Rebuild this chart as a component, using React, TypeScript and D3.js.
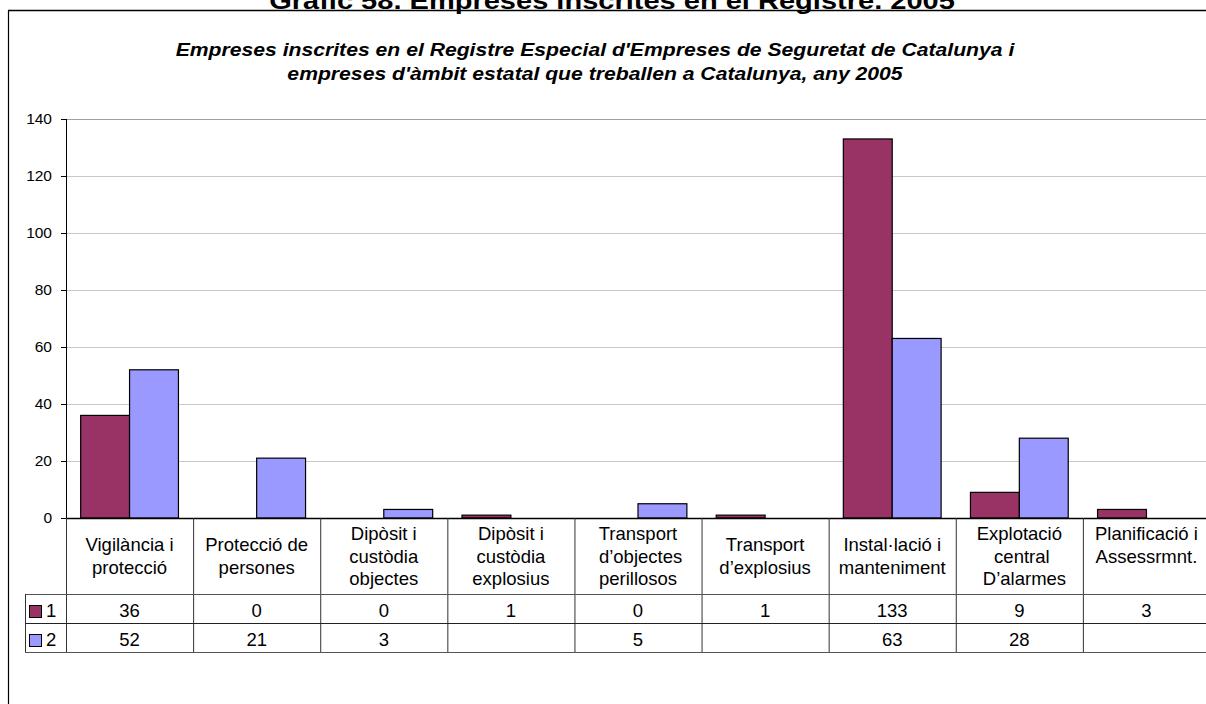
import * as d3 from "d3";

const categories = [
  ["Vigilància i", "protecció"],
  ["Protecció de", "persones"],
  ["Dipòsit i", "custòdia", "objectes"],
  ["Dipòsit i", "custòdia", "explosius"],
  ["Transport", " d’objectes", "perillosos"],
  ["Transport", "d’explosius"],
  ["Instal·lació i", "manteniment"],
  ["Explotació", " central", "  D’alarmes"],
  ["Planificació i", "Assessrmnt.", ""],
];
const seriesNames = ["1", "2"];
const series1: (number | null)[] = [36, 0, 0, 1, 0, 1, 133, 9, 3];
const series2: (number | null)[] = [52, 21, 3, null, 5, null, 63, 28, null];
const yTicks = [0, 20, 40, 60, 80, 100, 120, 140];

const colors = ["#993366", "#9999FF"];
const font = "Arial, 'Liberation Sans', sans-serif";

export default function App() {
  const W = 1206;
  const H = 704;
  const plotLeft = 66;
  const plotRight = 1210;
  const y0 = 518;
  const yTop = 119;
  const headerBottom = 594;
  const rowH = 29;
  const legendLeft = 25;

  const keys = categories.map((_, i) => String(i));
  const x0 = d3.scaleBand<string>().domain(keys).range([plotLeft, plotRight]).padding(0);
  const x1 = d3.scaleBand<string>().domain(seriesNames).range([0, x0.bandwidth()]).paddingInner(0).paddingOuter(0.3);
  const y = d3.scaleLinear().domain([0, 140]).range([y0, yTop]);

  const data = [series1, series2];
  const tableBottom = headerBottom + rowH * 2;

  // the titles in the source are a little stretched sideways
  const stretch = 1.21;

  return (
    <div style={{ position: "fixed", left: 0, top: 0, width: W, height: H, overflow: "hidden", background: "#fff" }}>
      <svg width={W} height={H} style={{ display: "block", fontFamily: font }}>
        {/* chart title, partly cut at the top */}
        <g transform={`translate(612,8.5) scale(${stretch},1)`}>
          <text x={0} y={0} textAnchor="middle" fontSize={24} fontWeight="bold" fill="#000">
            Gràfic 58. Empreses inscrites en el Registre. 2005
          </text>
        </g>
        {/* frame */}
        <line x1={8.5} x2={8.5} y1={10.5} y2={H} stroke="#000" strokeWidth={1.2} />
        <line x1={8} x2={W} y1={10.5} y2={10.5} stroke="#000" strokeWidth={1.5} />

        <g transform={`translate(595,0) scale(${stretch},1)`}>
          <text x={0} y={56} textAnchor="middle" fontSize={17.5} fontWeight="bold" fontStyle="italic">
            Empreses inscrites en el Registre Especial d'Empreses de Seguretat de Catalunya i
          </text>
          <text x={0} y={80} textAnchor="middle" fontSize={17.5} fontWeight="bold" fontStyle="italic">
            empreses d'àmbit estatal que treballen a Catalunya, any 2005
          </text>
        </g>

        {/* gridlines */}
        {yTicks.filter((t) => t > 0).map((t) => (
          <line key={t} x1={plotLeft} x2={plotRight} y1={Math.round(y(t)) + 0.5} y2={Math.round(y(t)) + 0.5}
            stroke={t === 140 ? "#a0a0a0" : "#c8c8c8"} strokeWidth={1} />
        ))}

        {/* y axis */}
        <line x1={plotLeft + 0.5} x2={plotLeft + 0.5} y1={yTop} y2={tableBottom} stroke="#000" strokeWidth={1} />
        {yTicks.map((t) => (
          <g key={t}>
            <line x1={plotLeft - 5} x2={plotLeft} y1={Math.round(y(t)) + 0.5} y2={Math.round(y(t)) + 0.5} stroke="#000" />
            <text x={plotLeft - 14} y={y(t) + 5} textAnchor="end" fontSize={15.5} fill="#000">{t}</text>
          </g>
        ))}

        {/* bars */}
        {keys.map((k, i) => (
          <g key={k} transform={`translate(${x0(k)},0)`}>
            {data.map((s, si) => {
              const v = s[i];
              if (v == null || v === 0) return null;
              return (
                <rect key={si} x={(x1(seriesNames[si]) as number)} y={y(v)} width={x1.bandwidth()} height={y0 - y(v)}
                  fill={colors[si]} stroke="#000" strokeWidth={1.2} />
              );
            })}
          </g>
        ))}

        {/* x axis */}
        <line x1={plotLeft} x2={W} y1={y0 + 0.5} y2={y0 + 0.5} stroke="#000" strokeWidth={1.5} />

        {/* data table */}
        {keys.map((k) => (
          <line key={k} x1={(x0(k) as number) + 0.5} x2={(x0(k) as number) + 0.5} y1={y0} y2={tableBottom} stroke="#333" />
        ))}
        {[0, 1, 2].map((r) => (
          <line key={r} x1={legendLeft} x2={W} y1={headerBottom + r * rowH + 0.5} y2={headerBottom + r * rowH + 0.5}
            stroke={r === 1 ? "#222" : "#555"} />
        ))}
        <line x1={legendLeft + 0.5} x2={legendLeft + 0.5} y1={headerBottom} y2={tableBottom} stroke="#333" />

        {categories.map((lines, i) => {
          const cx = (x0(keys[i]) as number) + x0.bandwidth() / 2;
          const lh = 22.5;
          const mid = 562.5;
          const start = mid - ((lines.length - 1) * lh) / 2;
          return (
            <text key={i} textAnchor="middle" fontSize={18.5} fill="#000" style={{ whiteSpace: "pre" }}>
              {lines.map((l, li) => (
                <tspan key={li} x={cx} y={start + li * lh}>{l}</tspan>
              ))}
            </text>
          );
        })}

        {data.map((s, si) => {
          const rowTop = headerBottom + si * rowH;
          return (
            <g key={si}>
              <rect x={legendLeft + 4.5} y={rowTop + 11.5} width={12} height={12} fill={colors[si]} stroke="#000" strokeWidth={1} />
              <text x={legendLeft + 21} y={rowTop + 23} fontSize={18.5}>{seriesNames[si]}</text>
              {s.map((v, i) => v == null ? null : (
                <text key={i} x={(x0(keys[i]) as number) + x0.bandwidth() / 2} y={rowTop + 23} textAnchor="middle" fontSize={18.5}>
                  {v}
                </text>
              ))}
            </g>
          );
        })}
      </svg>
    </div>
  );
}
